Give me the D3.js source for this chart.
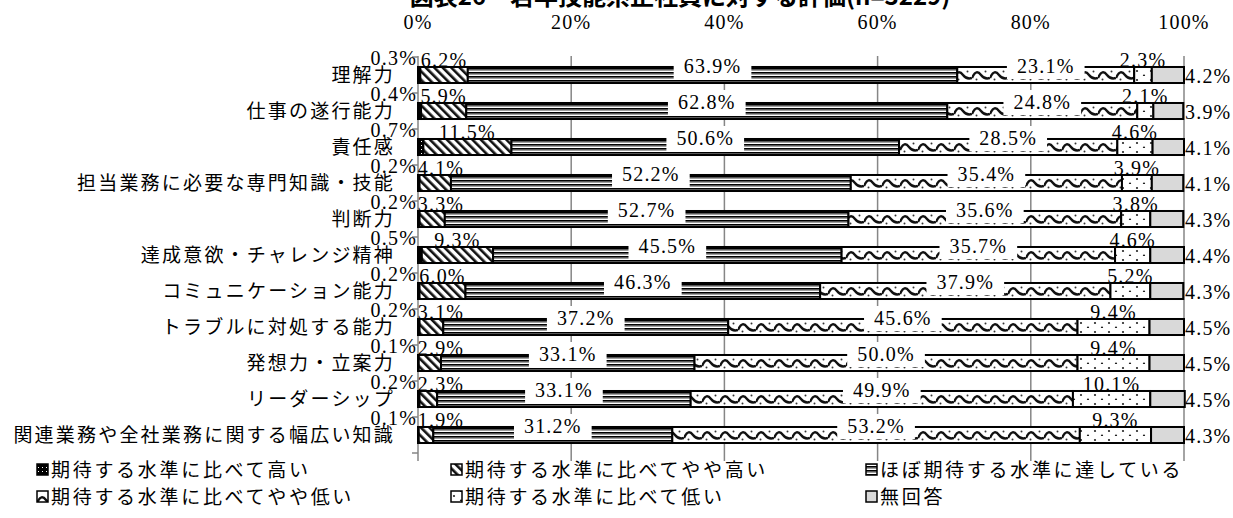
<!DOCTYPE html>
<html>
<head>
<meta charset="utf-8">
<style>
  body { margin: 0; background: #fff; }
  svg { display: block; }
  .num { font-family: "Liberation Serif", serif; font-size: 20px; letter-spacing: 1.2px; fill: #000; }
  .jp { font-family: "Noto Sans CJK JP", sans-serif; font-size: 19px; letter-spacing: 2.2px; fill: #000; }
  .leg { font-family: "Noto Sans CJK JP", sans-serif; font-size: 19px; letter-spacing: 2.7px; fill: #000; }
</style>
<script src="https://cdnjs.cloudflare.com/ajax/libs/d3/7.8.5/d3.min.js"></script>
</head>
<body>
<script>
var title = "図表26　若年技能系正社員に対する評価(n=3229)";

var categories = [
  "理解力",
  "仕事の遂行能力",
  "責任感",
  "担当業務に必要な専門知識・技能",
  "判断力",
  "達成意欲・チャレンジ精神",
  "コミュニケーション能力",
  "トラブルに対処する能力",
  "発想力・立案力",
  "リーダーシップ",
  "関連業務や全社業務に関する幅広い知識"
];

var seriesNames = [
  "期待する水準に比べて高い",
  "期待する水準に比べてやや高い",
  "ほぼ期待する水準に達している",
  "期待する水準に比べてやや低い",
  "期待する水準に比べて低い",
  "無回答"
];

// values per series, in category order (%)
var high       = [0.3, 0.4, 0.7, 0.2, 0.2, 0.5, 0.2, 0.2, 0.1, 0.2, 0.1];
var ratherHigh = [6.2, 5.9, 11.5, 4.1, 3.3, 9.3, 6.0, 3.1, 2.9, 2.3, 1.9];
var reached    = [63.9, 62.8, 50.6, 52.2, 52.7, 45.5, 46.3, 37.2, 33.1, 33.1, 31.2];
var ratherLow  = [23.1, 24.8, 28.5, 35.4, 35.6, 35.7, 37.9, 45.6, 50.0, 49.9, 53.2];
var low        = [2.3, 2.1, 4.6, 3.9, 3.8, 4.6, 5.2, 9.4, 9.4, 10.1, 9.3];
var noAnswer   = [4.2, 3.9, 4.1, 4.1, 4.3, 4.4, 4.3, 4.5, 4.5, 4.5, 4.3];

var xTicks = [0, 20, 40, 60, 80, 100];

var allSeries = [high, ratherHigh, reached, ratherLow, low, noAnswer];

var W = 1233, H = 518;
var svg = d3.select("body").append("svg").attr("width", W).attr("height", H);

var x = d3.scaleLinear().domain([0, 100]).range([418, 1184]);
var y = d3.scaleBand().domain(categories).range([57, 453]).paddingInner(0.555).paddingOuter(0.2775);
var bw = y.bandwidth();

// ---- patterns
var defs = svg.append("defs");

var p0 = defs.append("pattern").attr("id", "pat0").attr("patternUnits", "userSpaceOnUse")
  .attr("width", 4).attr("height", 4);
p0.append("rect").attr("width", 4).attr("height", 4).attr("fill", "#000");
p0.append("rect").attr("x", 1).attr("y", 1).attr("width", 1).attr("height", 1).attr("fill", "#fff");

var p1 = defs.append("pattern").attr("id", "pat1").attr("patternUnits", "userSpaceOnUse")
  .attr("width", 6).attr("height", 6).attr("patternTransform", "rotate(-45)");
p1.append("rect").attr("width", 6).attr("height", 6).attr("fill", "#fff");
p1.append("rect").attr("width", 2.6).attr("height", 6).attr("fill", "#111");

var p2 = defs.append("pattern").attr("id", "pat2").attr("patternUnits", "userSpaceOnUse")
  .attr("width", 8).attr("height", 4);
p2.append("rect").attr("width", 8).attr("height", 4).attr("fill", "#fff");
p2.append("rect").attr("y", 0).attr("width", 8).attr("height", 1.7).attr("fill", "#000");
p2.append("rect").attr("y", 1.7).attr("width", 8).attr("height", 1).attr("fill", "#777");

// wave rows, one per bar (pattern tiles on half a band step)
var p3 = defs.append("pattern").attr("id", "pat3").attr("patternUnits", "userSpaceOnUse")
  .attr("y", y(categories[0])).attr("width", 18).attr("height", y.step() / 2);
p3.append("rect").attr("width", 18).attr("height", y.step() / 2).attr("fill", "#fff");
p3.append("path").attr("d", "M0,11 C3,4 6,4 9,8 S15,12 18,11").attr("fill", "none")
  .attr("stroke", "#111").attr("stroke-width", 2.4);
p3.append("circle").attr("cx", 4.5).attr("cy", 12.5).attr("r", 1).attr("fill", "#333");
p3.append("circle").attr("cx", 13.5).attr("cy", 4.5).attr("r", 1).attr("fill", "#333");

var p4 = defs.append("pattern").attr("id", "pat4").attr("patternUnits", "userSpaceOnUse")
  .attr("y", y(categories[0])).attr("width", 14).attr("height", y.step() / 4);
p4.append("rect").attr("width", 14).attr("height", 9).attr("fill", "#fff");
p4.append("circle").attr("cx", 3).attr("cy", 4).attr("r", 1.1).attr("fill", "#222");
p4.append("circle").attr("cx", 10).attr("cy", 8.5).attr("r", 1.1).attr("fill", "#222");

var fills = ["url(#pat0)", "url(#pat1)", "url(#pat2)", "url(#pat3)", "url(#pat4)", "#d9d9d9"];

// ---- title (cut at the top like the original)
svg.append("text").attr("x", 680).attr("y", 5).attr("text-anchor", "middle")
  .style("font-family", "'Noto Sans CJK JP', sans-serif").style("font-size", "24px")
  .style("font-weight", "bold").text(title);

// ---- gridlines
svg.append("g").selectAll("line").data(xTicks).enter().append("line")
  .attr("x1", function(d) { return x(d); }).attr("x2", function(d) { return x(d); })
  .attr("y1", 56).attr("y2", 461)
  .attr("stroke", "#868686").attr("stroke-width", 1.5);

// category boundary ticks on the left axis
var bounds = categories.map(function(c) { return y(c) - (y.step() - bw) / 2; });
bounds.push(453);
svg.append("g").selectAll("line").data(bounds).enter().append("line")
  .attr("x1", 412).attr("x2", 418).attr("y1", function(d) { return d; }).attr("y2", function(d) { return d; })
  .attr("stroke", "#868686").attr("stroke-width", 1.5);

// top axis labels
svg.append("g").selectAll("text").data(xTicks).enter().append("text")
  .attr("class", "num").attr("x", function(d) { return x(d); }).attr("y", 29)
  .attr("text-anchor", "middle").text(function(d) { return d + "%"; });

// category labels
svg.append("g").selectAll("text").data(categories).enter().append("text")
  .attr("class", "jp").attr("x", 395).attr("y", function(d) { return y(d) + bw / 2; })
  .attr("dy", "0.35em").attr("text-anchor", "end").text(function(d) { return d; });

// ---- stacked bars
var rows = categories.map(function(c, i) {
  var acc = 0;
  return allSeries.map(function(s, k) {
    var seg = { cat: c, k: k, v: s[i], x0: acc, x1: acc + s[i] };
    acc += s[i];
    return seg;
  });
});
var segs = [].concat.apply([], rows);

svg.append("g").selectAll("rect").data(segs).enter().append("rect")
  .attr("x", function(d) { return x(d.x0); })
  .attr("y", function(d) { return y(d.cat); })
  .attr("width", function(d) { return x(d.x1) - x(d.x0); })
  .attr("height", bw)
  .attr("fill", function(d) { return fills[d.k]; })
  .attr("stroke", "#000").attr("stroke-width", 2);

// ---- data labels
var lab = svg.append("g");
segs.forEach(function(d) {
  var cy = y(d.cat) + bw / 2;
  var txt = d.v.toFixed(1) + "%";
  var mid = x((d.x0 + d.x1) / 2);
  if (d.k === 0) {
    lab.append("text").attr("class", "num").attr("x", x(0) - 1).attr("y", cy - 17)
      .attr("dy", "0.35em").attr("text-anchor", "end").text(txt);
  } else if (d.k === 1) {
    lab.append("text").attr("class", "num").attr("x", Math.max(mid, x(0) + 23)).attr("y", cy - 15)
      .attr("dy", "0.35em").attr("text-anchor", "middle").text(txt);
  } else if (d.k === 2 || d.k === 3) {
    var t = lab.append("text").attr("class", "num").attr("x", mid).attr("y", cy - 9)
      .attr("dy", "0.35em").attr("text-anchor", "middle").text(txt);
    var bb = t.node().getBBox();
    lab.insert("rect", function() { return t.node(); })
      .attr("x", bb.x - 10).attr("y", cy - 21).attr("width", bb.width + 20).attr("height", 25)
      .attr("fill", "#fff");
  } else if (d.k === 4) {
    lab.append("text").attr("class", "num").attr("x", mid).attr("y", cy - 15)
      .attr("dy", "0.35em").attr("text-anchor", "middle").text(txt);
  } else {
    lab.append("text").attr("class", "num").attr("x", x(100) + 1).attr("y", cy + 1)
      .attr("dy", "0.35em").attr("text-anchor", "start").text(txt);
  }
});

// ---- legend
var legCols = [37, 451, 866], legRows = [470, 497];
var leg = svg.append("g").selectAll("g").data(seriesNames).enter().append("g")
  .attr("transform", function(d, i) {
    return "translate(" + legCols[i % 3] + "," + legRows[Math.floor(i / 3)] + ")";
  });
leg.append("rect").attr("x", 0).attr("y", -6).attr("width", 11).attr("height", 11)
  .attr("fill", function(d, i) { return fills[i]; })
  .attr("stroke", "#000").attr("stroke-width", 1.5);
leg.append("text").attr("class", "leg").attr("x", 14).attr("y", 0).attr("dy", "0.35em")
  .text(function(d) { return d; });
</script>
</body>
</html>
